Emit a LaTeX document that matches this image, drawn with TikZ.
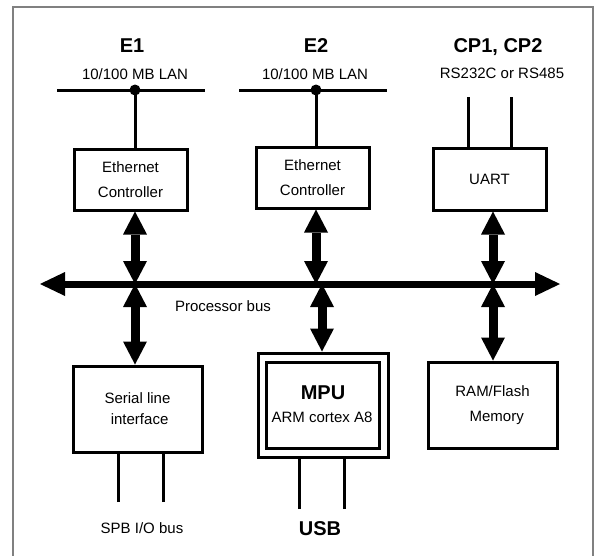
\documentclass[tikz,border=0pt]{standalone}
\usepackage{fontspec}
\setmainfont{Liberation Sans}
\usetikzlibrary{arrows.meta}
\begin{document}
\begin{tikzpicture}[x=1pt,y=-1pt,
  box/.style={draw, line width=3pt, inner sep=0pt, align=center, font=\fontsize{15}{25}\selectfont},
  lbl/.style={inner sep=0pt, anchor=base, font=\fontsize{15}{18}\selectfont},
  head/.style={inner sep=0pt, anchor=base, font=\fontsize{20}{24}\selectfont\bfseries},
  wire/.style={line width=3pt},
  dblarrow/.style={line width=9pt, {Triangle[width=24pt,length=23pt,line width=0pt]}-{Triangle[width=24pt,length=23pt,line width=0pt]}},
  busarrow/.style={line width=7pt, {Triangle[width=24pt,length=25pt,line width=0pt]}-{Triangle[width=24pt,length=25pt,line width=0pt]}},
  frameline/.style={draw=gray, line width=1.2pt}
]
\useasboundingbox (0,0) rectangle (599,555);
\draw[frameline] (13,556) -- (13,7) -- (593,7) -- (593,556);

% headings
\node[head] (e1h) at (132,52.2) {E1};
\node[head] (e2h) at (316,52.2) {E2};
\node[head] (cph) at (498,52.2) {CP1, CP2};
\node[lbl] (lan1) at (135,79.4) {10/100 MB LAN};
\node[lbl] (lan2) at (315,79.4) {10/100 MB LAN};
\node[lbl] (rs) at (502,78.4) {RS232C or RS485};

% boxes
\node[box, minimum width=113pt, minimum height=61pt] (eth1) at (130.5,179.5) {Ethernet\\Controller};
\node[box, minimum width=113pt, minimum height=61pt] (eth2) at (312.5,177.5) {Ethernet\\Controller};
\node[box, minimum width=113pt, minimum height=62pt] (uart) at (489.5,179) {UART};
\node[box, minimum width=129pt, minimum height=86pt, font=\fontsize{15}{21}\selectfont] (serial) at (137.5,409) {Serial line\\\ interface};
\node[draw, line width=3pt, inner sep=0pt, minimum width=130pt, minimum height=104pt] (mpuo) at (323,405) {};
\node[draw, line width=3pt, inner sep=0pt, minimum width=113pt, minimum height=86pt] (mpui) at (322.5,405) {};
\node[head] (mpu) at (323,399.2) {MPU};
\node[lbl] (arm) at (322,422.4) {ARM cortex A8};
\node[box, minimum width=129pt, minimum height=86pt] (ram) at (492.5,405) {RAM/Flash\\\ \ Memory};

% LAN lines
\coordinate (l1a) at (57,90);
\coordinate (l1b) at (205,90);
\coordinate (d1) at (135,90);
\coordinate (l2a) at (239,90);
\coordinate (l2b) at (387,90);
\coordinate (d2) at (316,90);
\draw[wire] (l1a) -- (l1b);
\draw[wire] (l2a) -- (l2b);
\fill (d1) circle[radius=5.5pt];
\fill (d2) circle[radius=5.5pt];
\draw[wire] (d1) -- (d1 |- eth1.north);
\draw[wire] (d2) -- (d2 |- eth2.north);

% UART wires
\coordinate (u1) at (468,97);
\coordinate (u2) at (511,97);
\draw[wire] (u1) -- (u1 |- uart.north);
\draw[wire] (u2) -- (u2 |- uart.north);

% bus
\coordinate (busL) at (40,284);
\coordinate (busR) at (560,284);
\draw[busarrow] (busL) -- (busR);
\node[lbl] (pb) at (223,311.4) {Processor bus};

\coordinate (j1) at (135,284);
\coordinate (j2) at (316,284);
\coordinate (j3) at (493,284);
\coordinate (j4) at (322,284);
\draw[dblarrow] (eth1.south -| j1) -- (j1);
\draw[dblarrow] (eth2.south -| j2) -- (j2);
\draw[dblarrow] (uart.south -| j3) -- (j3);
\draw[dblarrow] (j1) -- (serial.north -| j1);
\draw[dblarrow] (j4) -- (mpuo.north -| j4);
\draw[dblarrow] (j3) -- (ram.north -| j3);

% bottom wires
\coordinate (s1) at (118,502);
\coordinate (s2) at (163,502);
\draw[wire] (s1) -- (s1 |- serial.south);
\draw[wire] (s2) -- (s2 |- serial.south);
\node[lbl] (spb) at (142,533.4) {SPB I/O bus};

\coordinate (b1) at (299,509);
\coordinate (b2) at (344,509);
\draw[wire] (b1) -- (b1 |- mpuo.south);
\draw[wire] (b2) -- (b2 |- mpuo.south);
\node[head] (usb) at (320,535.2) {USB};
\end{tikzpicture}
\end{document}
